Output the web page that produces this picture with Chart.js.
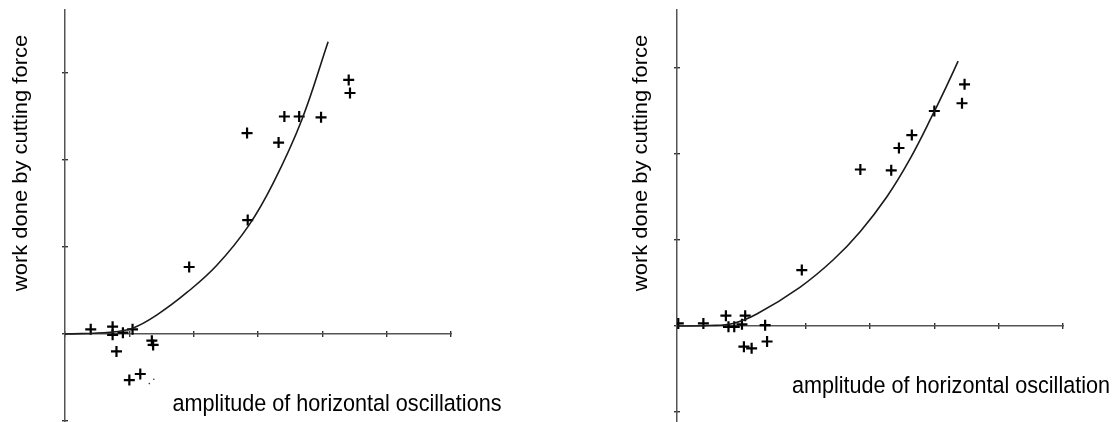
<!DOCTYPE html>
<html>
<head>
<meta charset="utf-8">
<script src="https://cdn.jsdelivr.net/npm/chart.js@4/dist/chart.umd.min.js"></script>
<style>
    html, body { margin: 0; padding: 0; background: #fff; }
    .wrap { position: absolute; top: 0; width: 560px; height: 422px; }
    #left { left: 0; }
    #right { left: 560px; }
</style>
</head>
<body>
<div class="wrap" id="left"><canvas id="c-left"></canvas></div>
<div class="wrap" id="right"><canvas id="c-right"></canvas></div>
<script>
// ------------------------------------------------------------
// Work done by cutting force vs. amplitude of oscillation
// ------------------------------------------------------------

const X_LABEL_LEFT = "amplitude of horizontal oscillations";
const X_LABEL_RIGHT = "amplitude of horizontal oscillation";
const Y_LABEL = "work done by cutting force";

const X_TICKS = [0, 1, 2, 3, 4, 5, 6];
const Y_TICKS = [-1, 0, 1, 2, 3];

// left panel: measured points (crosses)
const LEFT_X = [0.40, 0.74, 0.74, 0.90, 1.05, 0.80, 1.35, 1.37, 1.00, 1.17,
                1.93, 2.84, 2.83, 3.32, 3.41, 3.64, 3.98, 4.41, 4.43];
const LEFT_Y = [0.054, 0.084, -0.01, 0.015, 0.054, -0.20, -0.077, -0.126, -0.53, -0.46,
                0.77, 1.31, 2.31, 2.20, 2.50, 2.50, 2.49, 2.92, 2.77];
const LEFT_DOT_X = [1.31, 1.38];
const LEFT_DOT_Y = [-0.57, -0.52];
// left panel: fitted curve
const LEFT_FIT_X = [0, 0.70, 1.06, 1.43, 1.90, 2.36, 2.85, 3.24, 3.68, 4.09];
const LEFT_FIT_Y = [0, 0.02, 0.07, 0.22, 0.48, 0.79, 1.24, 1.74, 2.46, 3.36];

// right panel
const RIGHT_X = [0.02, 0.41, 0.76, 0.80, 0.89, 1.01, 1.06, 1.37, 1.04, 1.16, 1.40,
                 1.94, 2.85, 3.33, 3.45, 3.65, 4.00, 4.47, 4.43];
const RIGHT_Y = [0.03, 0.03, 0.12, -0.01, -0.01, 0.02, 0.12, 0.01, -0.24, -0.26, -0.18,
                 0.65, 1.82, 1.81, 2.07, 2.22, 2.50, 2.81, 2.59];
const RIGHT_FIT_X = [0, 0.50, 0.87, 1.24, 1.91, 2.43, 2.85, 3.26, 3.62, 3.99, 4.19, 4.37];
const RIGHT_FIT_Y = [0, 0.005, 0.03, 0.14, 0.45, 0.77, 1.10, 1.50, 1.94, 2.48, 2.79, 3.08];

const FONT = '"Liberation Sans", Arial, sans-serif';

function zip(xs, ys) {
    return xs.map((x, i) => ({ x: x, y: ys[i] }));
}

// axis titles, drawn a little stretched vertically like the scanned figure
const axisTitles = {
    id: "axisTitles",
    afterDraw(chart, args, opts) {
        const ctx = chart.ctx;
        ctx.save();
        ctx.fillStyle = "#000";
        ctx.textAlign = "center";
        ctx.textBaseline = "alphabetic";

        ctx.save();
        ctx.translate(opts.xCenter, opts.xBase);
        ctx.scale(1, 1.1);
        ctx.font = "21.6px " + FONT;
        ctx.fillText(opts.xText, 0, 0);
        ctx.restore();

        ctx.save();
        ctx.translate(opts.yBase, opts.yCenter);
        ctx.scale(1, 1.11);
        ctx.rotate(-Math.PI / 2);
        ctx.font = "19.8px " + FONT;
        ctx.fillText(Y_LABEL, 0, 0);
        ctx.restore();

        ctx.restore();
    }
};

function makeChart(canvasId, cfg) {
    const xUnit = 386 / 6;                       // px per x unit
    const yUnit = cfg.yUnit;                     // px per y unit
    const fixTicks = vals => scale => { scale.ticks = vals.map(v => ({ value: v })); };

    const datasets = [
        {
            data: zip(cfg.fitX, cfg.fitY),
            showLine: true,
            borderColor: "#1a1a1a",
            borderWidth: 1.6,
            pointRadius: 0,
            tension: 0.4,
            fill: false
        },
        {
            data: zip(cfg.markX, cfg.markY),
            pointStyle: "cross",
            pointRadius: 5.5,
            borderColor: "#000",
            borderWidth: 2.2
        }
    ];
    if (cfg.dotX) {
        datasets.push({
            data: zip(cfg.dotX, cfg.dotY),
            pointStyle: "circle",
            pointRadius: 0.8,
            backgroundColor: "#333",
            borderWidth: 0
        });
    }

    const hiddenTicks = { display: false, includeBounds: false };

    return new Chart(document.getElementById(canvasId), {
        type: "scatter",
        data: { datasets },
        options: {
            responsive: true,
            maintainAspectRatio: false,
            animation: false,
            layout: { padding: cfg.padding, autoPadding: false },
            plugins: {
                legend: { display: false },
                tooltip: { enabled: false },
                axisTitles: cfg.titles
            },
            scales: {
                x: {
                    type: "linear", min: 0, max: 6,
                    position: { y: 0 },
                    afterBuildTicks: fixTicks(X_TICKS),
                    ticks: hiddenTicks,
                    grid: { display: false },
                    border: { display: true, color: "#555", width: 1.5 }
                },
                // second copy of x, only for tick marks that cross the axis line
                xt: {
                    type: "linear", axis: "x", min: 0, max: 6,
                    position: { y: 3 / yUnit },
                    afterBuildTicks: fixTicks(X_TICKS),
                    ticks: hiddenTicks,
                    grid: { drawOnChartArea: false, drawTicks: true, tickLength: 6, color: "#333", lineWidth: 1.4 },
                    border: { display: false }
                },
                y: {
                    type: "linear", min: cfg.yMin, max: cfg.yMax,
                    position: { x: 0 },
                    afterBuildTicks: fixTicks(Y_TICKS),
                    ticks: hiddenTicks,
                    grid: { display: false },
                    border: { display: true, color: "#555", width: 1.5 }
                },
                yt: {
                    type: "linear", axis: "y", min: cfg.yMin, max: cfg.yMax,
                    position: { x: 3 / xUnit },
                    afterBuildTicks: fixTicks(Y_TICKS),
                    ticks: hiddenTicks,
                    grid: { drawOnChartArea: false, drawTicks: true, tickLength: 6, color: "#333", lineWidth: 1.4 },
                    border: { display: false }
                }
            }
        },
        plugins: [axisTitles]
    });
}

// left panel: origin at (65, 334), 87 px per y unit
makeChart("c-left", {
    markX: LEFT_X, markY: LEFT_Y,
    dotX: LEFT_DOT_X, dotY: LEFT_DOT_Y,
    fitX: LEFT_FIT_X, fitY: LEFT_FIT_Y,
    yUnit: 87,
    yMin: -88 / 87, yMax: 324 / 87,
    padding: { left: 65, right: 109, top: 10, bottom: 0 },
    titles: { xText: X_LABEL_LEFT, xCenter: 337, xBase: 411, yBase: 27, yCenter: 163 }
});

// right panel: origin at (677, 326), 86 px per y unit
makeChart("c-right", {
    markX: RIGHT_X, markY: RIGHT_Y,
    fitX: RIGHT_FIT_X, fitY: RIGHT_FIT_Y,
    yUnit: 86,
    yMin: -96 / 86, yMax: 316 / 86,
    padding: { left: 117, right: 57, top: 10, bottom: 0 },
    titles: { xText: X_LABEL_RIGHT, xCenter: 391, xBase: 393, yBase: 87, yCenter: 163 }
});
</script>
</body>
</html>
